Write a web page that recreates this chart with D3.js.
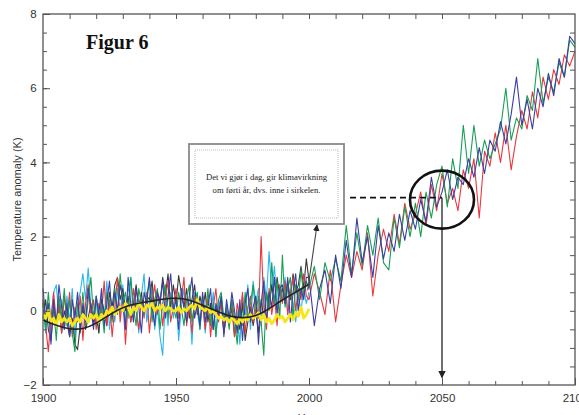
<!DOCTYPE html>
<html>
<head>
<meta charset="utf-8">
<script src="https://cdn.jsdelivr.net/npm/d3@7"></script>
<style>
  body { margin: 0; background: #fff; }
  svg { display: block; }
</style>
</head>
<body>
<div id="chart"></div>
<script>
// model runs: annual 1900-1999, then every 2nd year 2000-2100
var redPast = [
  0.3,-0.4,-1.1,-0.2,0.5,-0.3,0.2,-0.6,0.4,-0.2,
  0.5,-0.7,0.1,-0.3,0.4,-0.8,0.2,0.7,-0.2,0.3,
  -0.5,0.2,-0.1,0.8,-0.4,0.3,-0.7,0.1,0.9,-0.3,
  0.4,-0.9,0.2,-0.3,0.6,0.0,-0.5,0.3,-0.2,0.5,
  -0.6,0.2,0.7,-0.1,0.4,-0.4,0.3,0.8,-0.3,0.1,
  0.6,-0.2,0.3,0.9,-0.4,0.2,-0.6,0.4,0.1,-0.3,
  0.2,-0.5,0.4,-0.7,0.1,0.6,-0.3,0.3,-0.6,0.0,
  -0.4,0.3,-0.7,0.2,-0.2,0.5,-0.6,0.1,0.4,-0.3,
  0.3,-0.2,2.0,0.1,-0.5,0.6,-0.1,0.4,-0.4,0.7,
  0.2,0.8,-0.1,0.5,0.9,0.0,0.6,0.3,1.0,0.4
];
var redFuture = [
  0.3,1.0,0.5,-0.1,1.1, -0.3,0.7,1.5,0.9,1.6,
  1.1,2.1,0.4,1.5,2.2, 1.6,2.6,1.8,2.9,2.2,
  2.6,3.2,2.3,3.4,2.7, 3.7,2.9,3.3,2.7,3.8,
  3.3,4.1,2.5,4.3,3.9, 4.8,4.0,5.0,3.8,4.7,
  5.4,4.9,5.9,5.2,6.3, 5.7,6.5,6.1,6.9,6.6, 7.0
];
var greenPast = [
  0.2,-0.5,0.5,-0.3,0.1,-0.8,0.4,-0.2,0.6,-0.4,
  0.3,-0.6,-1.1,0.2,-0.3,0.5,-0.4,0.3,0.9,-0.2,
  0.4,-0.2,0.1,-0.6,0.5,0.2,-0.3,0.6,-0.1,1.0,
  0.2,0.5,-0.2,0.9,0.1,-0.4,0.6,0.2,-0.1,0.4,
  0.8,-0.3,0.3,0.6,-0.5,0.2,0.7,-0.2,0.4,0.1,
  -0.2,0.5,0.1,-0.4,0.3,0.7,-0.3,0.2,0.5,-0.5,
  0.4,-0.1,0.6,-0.4,0.2,-0.7,0.3,0.5,-0.2,0.1,
  -0.5,0.3,-0.2,-0.9,0.1,-0.4,0.5,-0.3,0.2,0.7,
  -0.1,0.4,-0.3,-1.2,0.5,0.0,1.3,0.2,0.8,-0.2,
  1.5,0.1,0.6,0.9,-0.2,0.7,0.3,1.1,0.4,0.8
];
var greenFuture = [
  0.6,1.2,0.3,1.3,0.8, 1.4,0.8,2.3,1.0,2.1,
  1.2,2.3,1.5,2.5,1.3, 1.1,2.5,1.7,2.8,2.0,
  2.9,2.0,3.2,2.5,3.4, 3.9,2.8,4.1,3.3,5.0,
  3.7,5.0,3.9,4.6,4.1, 4.5,4.9,6.0,4.6,5.2,
  4.9,5.8,5.4,6.8,5.6, 6.3,5.9,6.7,6.3,7.3, 7.1
];
var bluePast = [
  0.6,-0.2,0.2,-0.9,0.3,-0.4,0.7,0.1,-0.5,0.2,
  -0.7,0.3,-0.2,0.5,-0.6,0.2,-0.3,0.6,0.1,-0.5,
  0.4,-0.1,0.6,-0.4,0.2,0.8,-0.2,0.5,0.0,0.7,
  0.3,-0.5,0.9,0.2,-0.3,0.6,0.1,-0.6,0.5,0.2,
  0.9,0.1,-0.4,0.5,0.2,0.8,-0.2,0.4,1.0,0.0,
  0.3,-0.5,0.6,0.1,-0.3,0.4,0.9,-0.2,0.2,-0.4,
  0.5,-0.3,0.1,0.6,-0.5,0.2,-0.1,0.4,-0.7,0.3,
  -0.2,0.5,0.0,-0.6,0.3,-0.8,0.2,0.6,-0.3,0.1,
  0.4,-0.9,0.2,0.8,-0.3,0.5,0.1,0.9,-0.1,0.6,
  0.7,0.2,0.9,-0.3,0.5,1.0,0.0,0.6,0.3,0.9
];
var blueFuture = [
  0.9,-0.4,0.6,1.1,0.2, 1.5,0.6,1.9,0.9,2.5,
  1.3,2.0,0.9,2.3,1.4, 2.1,1.6,2.6,1.9,2.7,
  2.2,3.0,2.4,3.6,2.8, 3.2,3.8,3.0,3.6,3.4,
  4.1,3.6,4.4,3.7,4.6, 4.3,5.1,4.5,5.3,6.3,
  5.0,5.7,4.9,6.0,5.5, 6.4,5.8,6.8,6.3,7.4, 7.2
];
// 1900 - 2000 only
var cyan = [
  0.2,-0.6,0.1,-0.3,0.5,0.7,-0.2,0.3,-0.5,0.4,
  -0.3,0.6,-0.8,0.2,0.5,1.0,0.3,1.15,0.1,-0.4,
  0.3,-0.6,0.4,-0.2,0.8,-0.5,0.2,-0.3,0.6,-0.1,
  0.7,-0.4,0.5,0.9,-0.2,0.3,-0.6,0.4,1.0,-0.3,
  0.2,0.6,-0.5,0.1,-0.7,-1.2,0.3,-0.4,0.5,-0.2,
  0.4,-0.8,0.1,0.6,-0.3,0.2,-0.9,0.5,0.0,-0.5,
  0.3,-0.6,0.2,-0.2,0.5,-0.7,0.1,0.4,-0.4,0.2,
  -0.3,0.3,-0.6,0.0,-0.9,0.4,-0.2,0.7,-0.5,0.8,
  0.2,0.6,-0.4,0.9,0.3,1.6,0.5,1.2,0.1,0.7,
  0.3,0.9,-0.1,0.5,0.2,-0.3,0.4,0.0,0.6,0.2,0.5
];
var grey = [
  -0.2,0.3,-0.5,-0.8,0.1,-0.4,0.2,-0.6,0.0,-0.3,
  -0.7,-0.2,-0.9,-1.05,-0.4,0.1,-0.5,-0.2,0.2,-0.3,
  -0.1,-0.6,0.3,0.0,-0.4,0.5,0.1,0.7,0.9,0.3,
  0.6,0.0,0.4,-0.3,0.2,0.7,0.1,0.5,-0.1,0.4,
  0.3,0.8,0.0,0.5,0.2,0.9,0.4,1.0,0.1,0.7,
  0.2,0.95,0.5,0.1,0.6,-0.2,0.3,0.7,-0.1,0.4,
  0.0,0.5,-0.3,0.2,-0.5,0.1,-0.2,0.3,-0.6,-0.1,
  -0.4,0.1,-0.7,-0.2,-0.5,0.2,-0.8,-0.3,0.1,-0.4,
  0.0,-0.6,0.3,-0.2,0.5,0.1,0.7,0.2,0.9,0.4,
  0.6,0.2,0.8,0.3,1.0,0.5,0.7,1.2,0.6,1.4,0.8
];
var yellow = [
  -0.1,-0.2,0.0,-0.3,-0.2,-0.4,-0.1,-0.3,-0.2,-0.3,
  -0.2,-0.4,-0.3,-0.2,-0.3,-0.1,-0.2,-0.3,-0.1,-0.2,
  -0.1,-0.3,-0.1,-0.2,0.0,-0.1,0.1,-0.1,0.0,0.1,
  0.0,0.2,0.1,-0.1,0.1,0.0,0.2,0.1,0.0,0.15,
  0.1,0.2,0.0,0.1,0.05,0.15,0.0,0.1,0.05,0.0,
  0.0,0.1,-0.05,0.05,0.0,0.1,0.15,0.05,0.3,0.1,
  0.05,0.0,0.1,-0.05,0.0,-0.1,-0.2,-0.15,-0.25,-0.2,
  -0.3,-0.2,-0.25,-0.35,-0.2,-0.3,-0.15,-0.25,-0.1,-0.2,
  -0.15,-0.05,-0.25,-0.1,-0.3,-0.2,-0.35,-0.25,-0.1,-0.2,
  -0.15,-0.3,-0.2,-0.1,-0.25,-0.05,-0.15,0.1,-0.2,-0.1,0.05
];
// smoothed curve, every 5 years
var smoothYears = [1900,1905,1910,1915,1920,1925,1930,1935,1940,1945,1950,1955,1960,1965,1970,1975,1980,1985,1990,1995,2000];
var smooth = [-0.25,-0.4,-0.5,-0.5,-0.35,-0.1,0.1,0.2,0.25,0.32,0.35,0.3,0.15,0.0,-0.15,-0.2,-0.15,0.05,0.3,0.5,0.72];

var xTicks = [1900, 1950, 2000, 2050, 2100];
var yTicks = [-2, 0, 2, 4, 6, 8];
var noteLines = ["Det vi gjør i dag, gir klimavirkning", "om førti år, dvs. inne i sirkelen."];
var markYear = 2050, markValue = 3.05;

var W = 579, H = 415;
var m = {l: 43, t: 14, r: 4, b: 30};

var svg = d3.select("#chart").append("svg")
    .attr("width", W).attr("height", H);

var x = d3.scaleLinear().domain([1900, 2100]).range([m.l, W - m.r]);
var y = d3.scaleLinear().domain([-2, 8]).range([H - m.b, m.t]);

var line = d3.line()
    .x(function(d) { return x(d[0]); })
    .y(function(d) { return y(d[1]); });

// pair values with years: annual from 1900, then 2-yearly from 2000
function points(past, future) {
  var pts = past.map(function(v, i) { return [1900 + i, v]; });
  (future || []).forEach(function(v, i) { pts.push([2000 + 2 * i, v]); });
  return pts;
}

function drawSeries(pts, colour, width) {
  svg.append("path").datum(pts)
    .attr("d", line)
    .attr("fill", "none")
    .attr("stroke", colour)
    .attr("stroke-width", width)
    .attr("stroke-linejoin", "round");
}

drawSeries(points(cyan), "#2ab6ee", 1.1);
drawSeries(points(grey), "#3a3a3a", 1.1);
drawSeries(points(redPast, redFuture), "#e8383d", 1.1);
drawSeries(points(greenPast, greenFuture), "#16a053", 1.1);
drawSeries(points(bluePast, blueFuture), "#3b3fa3", 1.1);
drawSeries(points(yellow), "#f6e51b", 2.8);

svg.append("path").datum(smooth)
  .attr("d", d3.line()
    .x(function(d, i) { return x(smoothYears[i]); })
    .y(function(d) { return y(d); })
    .curve(d3.curveBasis))
  .attr("fill", "none").attr("stroke", "#222").attr("stroke-width", 1.6);

// frame and ticks (inward, on all four sides)
var axisCol = "#555";
var gx = svg.append("g").attr("transform", "translate(0," + (H - m.b) + ")")
  .call(d3.axisBottom(x).tickValues(xTicks).tickSizeInner(-7).tickSizeOuter(0)
    .tickFormat(d3.format("d")));
var gxm = svg.append("g").attr("transform", "translate(0," + (H - m.b) + ")")
  .call(d3.axisBottom(x).tickValues(d3.range(1910, 2100, 10)).tickSize(-4).tickFormat(""));
var gt = svg.append("g").attr("transform", "translate(0," + m.t + ")")
  .call(d3.axisTop(x).tickValues(d3.range(1910, 2100, 10)).tickSize(-5).tickFormat(""));
var gy = svg.append("g").attr("transform", "translate(" + m.l + ",0)")
  .call(d3.axisLeft(y).tickValues(yTicks).tickSizeInner(-7).tickSizeOuter(0)
    .tickFormat(function(d) { return d < 0 ? "\u2212" + Math.abs(d) : d; }));
var gym = svg.append("g").attr("transform", "translate(" + m.l + ",0)")
  .call(d3.axisLeft(y).tickValues(d3.range(-1.5, 8, 0.5)).tickSize(-4).tickFormat(""));
var gr = svg.append("g").attr("transform", "translate(" + (W - m.r) + ",0)")
  .call(d3.axisRight(y).tickValues(d3.range(-1.5, 8, 0.5)).tickSize(-5).tickFormat(""));

[gx, gxm, gt, gy, gym, gr].forEach(function(g) {
  g.select(".domain").remove();
  g.selectAll("line").attr("stroke", axisCol).attr("stroke-width", 1);
  g.selectAll("text").attr("fill", "#333").attr("font-family", "Liberation Sans, Arial, sans-serif").attr("font-size", 11.5);
});
gx.selectAll("text").attr("dy", "1.25em");
gy.selectAll("text").attr("dx", "-0.3em");

svg.append("rect")
  .attr("x", m.l).attr("y", m.t)
  .attr("width", W - m.r - m.l).attr("height", H - m.b - m.t)
  .attr("fill", "none").attr("stroke", axisCol).attr("stroke-width", 1.3);

svg.append("text")
  .attr("transform", "translate(21," + ((m.t + H - m.b) / 2) + ") rotate(-90)")
  .attr("text-anchor", "middle")
  .attr("font-family", "Liberation Sans, Arial, sans-serif").attr("font-size", 11)
  .attr("fill", "#333")
  .text("Temperature anomaly (K)");

svg.append("text")
  .attr("x", (m.l + W - m.r) / 2).attr("y", 422)
  .attr("text-anchor", "middle")
  .attr("font-family", "Liberation Sans, Arial, sans-serif").attr("font-size", 11)
  .attr("fill", "#333")
  .text("Year");

// title
svg.append("text")
  .attr("x", 86).attr("y", 49)
  .attr("font-family", "Liberation Serif, DejaVu Serif, serif")
  .attr("font-weight", "bold").attr("font-size", 20)
  .attr("fill", "#111")
  .text("Figur 6");

// note box
var box = {x: 189, y: 144, w: 155, h: 80};
var defs = svg.append("defs");
defs.append("marker").attr("id", "head").attr("viewBox", "0 0 10 10")
  .attr("refX", 9).attr("refY", 5).attr("markerWidth", 6).attr("markerHeight", 6)
  .attr("orient", "auto-start-reverse")
  .append("path").attr("d", "M0,0 L10,5 L0,10 z").attr("fill", "#222");

svg.append("line")
  .attr("x1", x(1999.5)).attr("y1", y(0.55))
  .attr("x2", box.x + box.w - 27).attr("y2", box.y + box.h + 1)
  .attr("stroke", "#444").attr("stroke-width", 1.1)
  .attr("marker-end", "url(#head)");

svg.append("rect")
  .attr("x", box.x).attr("y", box.y).attr("width", box.w).attr("height", box.h)
  .attr("fill", "#fff").attr("stroke", "#8a8a8a").attr("stroke-width", 1.8);
svg.append("rect")
  .attr("x", box.x + 6).attr("y", box.y + 6).attr("width", box.w - 12).attr("height", box.h - 12)
  .attr("fill", "none").attr("stroke", "#bbb").attr("stroke-width", 1).attr("stroke-dasharray", "1,1");
svg.selectAll(".note").data(noteLines).enter().append("text")
  .attr("class", "note")
  .attr("x", box.x + box.w / 2).attr("y", function(d, i) { return 180 + i * 13; })
  .attr("text-anchor", "middle")
  .attr("font-family", "Liberation Serif, DejaVu Serif, serif").attr("font-size", 8.6)
  .attr("fill", "#222")
  .text(function(d) { return d; });

// dashed pointer to circle, and arrow down to the year axis
svg.append("line")
  .attr("x1", box.x + box.w + 6).attr("y1", y(markValue))
  .attr("x2", x(markYear)).attr("y2", y(markValue))
  .attr("stroke", "#111").attr("stroke-width", 1.8).attr("stroke-dasharray", "6,4");
svg.append("line")
  .attr("x1", x(markYear)).attr("y1", y(markValue))
  .attr("x2", x(markYear)).attr("y2", y(-1.8))
  .attr("stroke", "#222").attr("stroke-width", 1.3)
  .attr("marker-end", "url(#head)");
svg.append("ellipse")
  .attr("cx", x(markYear)).attr("cy", y(markValue) + 2)
  .attr("rx", 32).attr("ry", 29)
  .attr("fill", "none").attr("stroke", "#111").attr("stroke-width", 2.6);
</script>
</body>
</html>
